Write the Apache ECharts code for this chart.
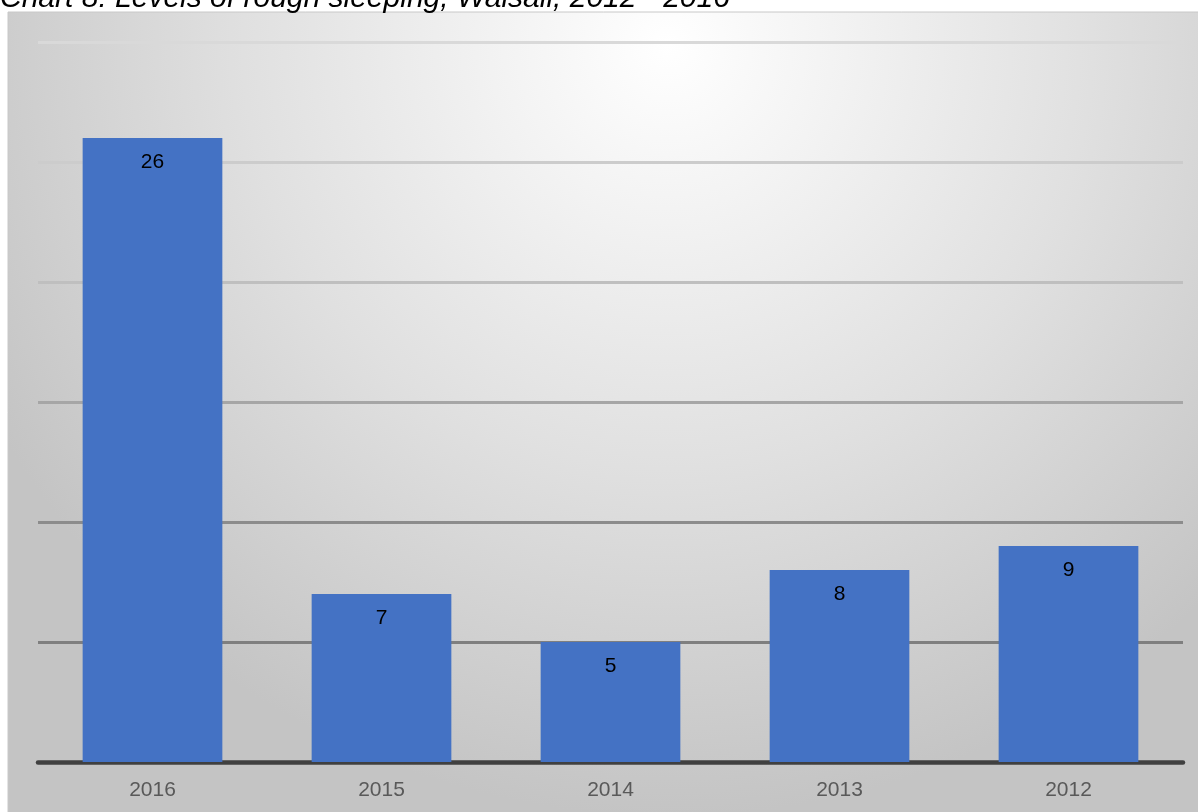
<!DOCTYPE html>
<html>
<head>
<meta charset="utf-8">
<title>Levels of rough sleeping, Walsall</title>
<script src="https://cdn.jsdelivr.net/npm/echarts@6/dist/echarts.min.js"></script>
<style>
  html, body { margin: 0; padding: 0; background: #ffffff; }
  #chart { width: 1198px; height: 812px; }
</style>
</head>
<body>
<div id="chart"></div>
<script>
// Rough sleeping counts by year (most recent first)
const years = ['2016', '2015', '2014', '2013', '2012'];
const roughSleepers = [26, 7, 5, 8, 9];
const chartTitle = 'Chart 8: Levels of rough sleeping, Walsall, 2012 - 2016';

// Gridline shades, lightest at the top, darkest near the baseline
const gridShades = ['#7f7f7f', '#7f7f7f', '#8c8c8c', '#a6a6a6', '#bfbfbf', '#cccccc', '#d9d9d9'];

const chart = echarts.init(document.getElementById('chart'), null, { renderer: 'canvas' });

chart.setOption({
  animation: false,
  graphic: [
    {
      type: 'rect',
      z: -10,
      shape: { x: 8, y: 12, width: 1200, height: 812 },
      style: {
        fill: new echarts.graphic.RadialGradient(0.55, 0.04, 0.95, [
          { offset: 0, color: '#ffffff' },
          { offset: 0.55, color: '#e0e0e0' },
          { offset: 1, color: '#c4c4c4' }
        ]),
        stroke: '#c8c8c8',
        lineWidth: 1
      }
    },
    {
      // title sits partly above the top edge of the page
      type: 'text',
      x: 0,
      y: -16,
      style: {
        text: chartTitle,
        font: 'italic 30px "Liberation Sans", Arial, sans-serif',
        fill: '#000000',
        verticalAlign: 'top'
      }
    }
  ],
  grid: { left: 38, right: 15, top: 42, bottom: 50 },
  xAxis: {
    type: 'category',
    data: years,
    axisLine: { show: true, lineStyle: { color: '#404040', width: 4.5 } },
    axisTick: { show: false },
    axisLabel: {
      color: '#595959',
      fontSize: 21,
      fontFamily: '"Liberation Sans", Arial, sans-serif',
      margin: 18
    }
  },
  yAxis: {
    type: 'value',
    min: 0,
    max: 30,
    interval: 5,
    axisLabel: { show: false },
    axisLine: { show: false },
    axisTick: { show: false },
    splitLine: { show: true, lineStyle: { color: gridShades, width: 3 } }
  },
  series: [
    {
      type: 'bar',
      data: roughSleepers,
      barWidth: '61%',
      itemStyle: { color: '#4472c4' },
      label: {
        show: true,
        position: 'insideTop',
        distance: 14,
        color: '#000000',
        fontSize: 21,
        fontFamily: '"Liberation Sans", Arial, sans-serif'
      }
    }
  ]
});
</script>
</body>
</html>
